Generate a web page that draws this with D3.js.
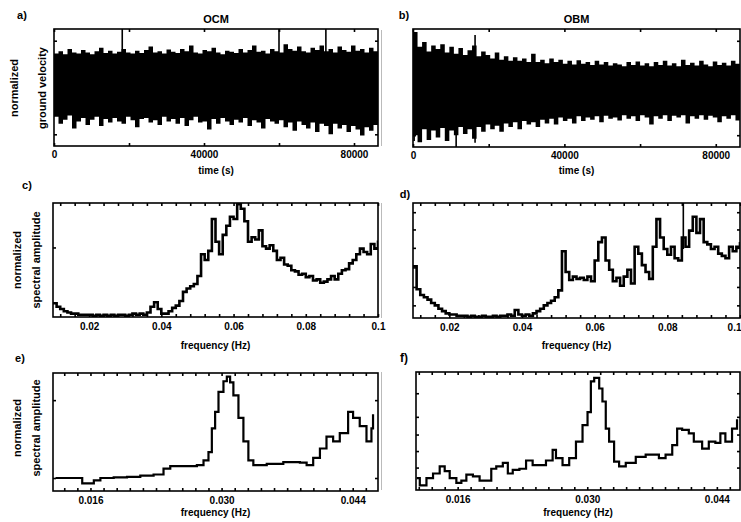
<!DOCTYPE html>
<html><head><meta charset="utf-8">
<script src="https://cdn.jsdelivr.net/npm/d3@7"></script>
<style>
html,body{margin:0;padding:0;background:#fff;}
svg text{font-family:"Liberation Sans",Arial,sans-serif;font-weight:bold;fill:#000;}
</style></head>
<body>
<svg id="chart" width="741" height="522"></svg>
<script>
// ---------------- DATA ----------------
const timeStep = 1200; // seconds between envelope samples
const timeTicks = [0, 20000, 40000, 60000, 80000];
const timeTickLabels = ["0", "", "40000", "", "80000"];

// Panel a (OCM) ground velocity envelope
const ocmUpper = [0.58,0.62,0.57,0.66,0.60,0.58,0.64,0.60,0.57,0.62,0.68,0.59,0.63,0.58,0.61,0.66,0.60,0.58,0.63,0.59,
0.64,0.70,0.60,0.62,0.58,0.65,0.61,0.59,0.66,0.62,0.72,0.60,0.58,0.64,0.62,0.68,0.60,0.57,0.63,0.61,
0.59,0.66,0.60,0.64,0.72,0.61,0.63,0.58,0.66,0.62,0.60,0.74,0.66,0.63,0.70,0.62,0.60,0.68,0.64,0.72,
0.62,0.66,0.60,0.70,0.64,0.61,0.72,0.63,0.66,0.60,0.68,0.62];
const ocmLower = [-0.50,-0.62,-0.55,-0.48,-0.70,-0.58,-0.52,-0.64,-0.55,-0.50,-0.66,-0.54,-0.60,-0.52,-0.58,-0.62,-0.50,-0.56,-0.68,-0.54,
-0.52,-0.60,-0.56,-0.64,-0.50,-0.58,-0.54,-0.62,-0.52,-0.66,-0.56,-0.50,-0.60,-0.58,-0.72,-0.54,-0.62,-0.52,-0.58,-0.64,
-0.55,-0.60,-0.52,-0.66,-0.56,-0.60,-0.70,-0.54,-0.58,-0.62,-0.56,-0.68,-0.60,-0.74,-0.58,-0.64,-0.70,-0.60,-0.76,-0.62,
-0.66,-0.80,-0.62,-0.70,-0.64,-0.76,-0.66,-0.72,-0.82,-0.68,-0.74,-0.64];
const ocmSpikeTime = [18200, 60000, 72500];
const ocmSpikeHigh = [1.0, 1.0, 1.0];
const ocmSpikeLow = [0.4, 0.4, 0.4];

// Panel b (OBM) ground velocity envelope
const obmUpper = [0.95,0.70,0.78,0.62,0.72,0.66,0.74,0.60,0.70,0.58,0.68,0.56,0.64,0.72,0.54,0.62,0.56,0.50,0.60,0.48,
0.54,0.46,0.52,0.46,0.50,0.44,0.58,0.44,0.48,0.42,0.50,0.44,0.48,0.41,0.46,0.40,0.47,0.41,0.44,0.39,
0.46,0.40,0.44,0.38,0.42,0.40,0.37,0.44,0.39,0.45,0.38,0.42,0.37,0.44,0.39,0.46,0.38,0.42,0.37,0.48,
0.39,0.43,0.38,0.46,0.40,0.37,0.45,0.39,0.43,0.38,0.46,0.41];
const obmLower = [-0.80,-0.92,-0.70,-0.88,-0.72,-0.84,-0.68,-0.90,-0.72,-0.80,-0.66,-0.78,-0.70,-0.86,-0.66,-0.74,-0.62,-0.70,-0.64,-0.74,
-0.60,-0.66,-0.58,-0.70,-0.56,-0.62,-0.58,-0.66,-0.54,-0.60,-0.52,-0.62,-0.50,-0.56,-0.52,-0.60,-0.48,-0.56,-0.50,-0.54,
-0.48,-0.58,-0.47,-0.52,-0.50,-0.55,-0.46,-0.52,-0.48,-0.56,-0.46,-0.50,-0.62,-0.48,-0.52,-0.46,-0.56,-0.47,-0.50,-0.46,
-0.60,-0.48,-0.52,-0.46,-0.54,-0.47,-0.50,-0.58,-0.48,-0.52,-0.46,-0.55];
const obmSpikeTime = [300, 11400, 16400];
const obmSpikeHigh = [0.95, 0.5, 0.90];
const obmSpikeLow = [-0.90, -1.0, -0.93];

// Panels c, d: spectra 0.010 .. 0.100 Hz, step 0.001
const freqStart = 0.010, freqStep = 0.001;
const ocmSpectrum = [0.12,0.09,0.07,0.05,0.04,0.03,0.03,0.02,0.02,0.02,
0.02,0.01,0.02,0.01,0.02,0.01,0.02,0.01,0.02,0.02,
0.01,0.02,0.03,0.02,0.03,0.02,0.04,0.09,0.13,0.07,
0.03,0.03,0.05,0.08,0.10,0.14,0.22,0.25,0.27,0.29,
0.36,0.55,0.50,0.58,0.86,0.66,0.55,0.72,0.80,0.88,
0.86,0.99,0.95,0.84,0.66,0.70,0.68,0.76,0.62,0.60,
0.63,0.58,0.50,0.52,0.46,0.45,0.41,0.40,0.37,0.38,
0.35,0.36,0.32,0.33,0.30,0.31,0.33,0.36,0.33,0.38,
0.41,0.42,0.47,0.50,0.55,0.60,0.57,0.55,0.64,0.60,0.67];
const obmSpectrum = [0.45,0.25,0.20,0.18,0.16,0.13,0.11,0.08,0.06,0.04,
0.03,0.03,0.02,0.02,0.02,0.01,0.02,0.01,0.01,0.02,
0.01,0.01,0.02,0.01,0.02,0.02,0.03,0.02,0.07,0.03,
0.02,0.03,0.02,0.04,0.06,0.08,0.11,0.13,0.15,0.18,
0.24,0.58,0.40,0.33,0.36,0.34,0.35,0.33,0.36,0.32,
0.50,0.66,0.70,0.50,0.42,0.32,0.35,0.28,0.36,0.42,
0.30,0.62,0.56,0.46,0.40,0.34,0.62,0.86,0.70,0.60,
0.55,0.62,0.52,0.50,0.70,0.62,0.76,0.88,0.74,0.86,
0.66,0.64,0.60,0.62,0.56,0.54,0.52,0.62,0.58,0.62,0.66];
const obmSpectrumSpike = [0.0844];
const specTicks = [0.02, 0.04, 0.06, 0.08, 0.1];
const specTickLabels = ["0.02", "0.04", "0.06", "0.08", "0.1"];

// Panels e, f: zoomed spectra
const ocmZoomFreq = [0.01227,0.01458,0.01512,0.01582,0.01636,0.01706,0.01848,0.0199,0.02132,0.02274,0.02345,0.0238,0.02452,0.02594,0.02736,0.02807,0.0286,0.02896,0.02931,0.02967,0.0302,0.03056,0.03091,0.03126,0.0318,0.03233,0.03286,0.03339,0.03482,0.03659,0.03836,0.03908,0.03978,0.0405,0.0412,0.04191,0.04262,0.04351,0.04404,0.04475,0.04547,0.046,0.04617];
const ocmZoomAmp = [0.11,0.11,0.065,0.065,0.09,0.11,0.115,0.12,0.13,0.14,0.14,0.19,0.21,0.21,0.22,0.26,0.33,0.53,0.67,0.84,0.93,0.97,0.92,0.81,0.62,0.42,0.26,0.22,0.23,0.245,0.24,0.22,0.28,0.36,0.46,0.42,0.49,0.67,0.62,0.55,0.42,0.53,0.65];
const obmZoomFreq = [0.01156,0.01191,0.01263,0.01334,0.01406,0.0146,0.01514,0.01586,0.0164,0.01694,0.01765,0.01837,0.01909,0.01963,0.02017,0.02088,0.02142,0.02195,0.02267,0.02339,0.0241,0.02518,0.02554,0.02626,0.02662,0.02733,0.02805,0.02878,0.02949,0.03003,0.03039,0.03075,0.03129,0.03164,0.032,0.03236,0.0329,0.03344,0.03416,0.03524,0.03631,0.03774,0.03846,0.03918,0.03971,0.04025,0.04097,0.04151,0.04241,0.04313,0.04384,0.04438,0.04492,0.04564,0.04618];
const obmZoomAmp = [0.10,0.04,0.10,0.14,0.20,0.16,0.10,0.06,0.08,0.13,0.115,0.08,0.08,0.18,0.20,0.23,0.14,0.17,0.18,0.25,0.21,0.21,0.25,0.34,0.27,0.21,0.27,0.41,0.55,0.66,0.92,0.95,0.86,0.75,0.52,0.41,0.24,0.20,0.23,0.28,0.30,0.27,0.30,0.38,0.52,0.51,0.48,0.41,0.35,0.41,0.40,0.48,0.41,0.52,0.60];
const zoomTicks = [0.016, 0.030, 0.044];
const zoomTickLabels = ["0.016", "0.030", "0.044"];
const zoomMinorStep = 0.0014;

// ---------------- DRAW ----------------
const svg = d3.select("#chart");

const panels = {
  a: {x0:54, x1:378, y0:29, y1:146},
  b: {x0:413, x1:740, y0:29, y1:147},
  c: {x0:53, x1:378, y0:203, y1:317},
  d: {x0:413, x1:740, y0:203, y1:318},
  e: {x0:53, x1:378, y0:373, y1:491},
  f: {x0:416, x1:740, y0:372, y1:490}
};

function makeScales(p, xd, yd){
  return {
    x: d3.scaleLinear().domain(xd).range([p.x0, p.x1]),
    y: d3.scaleLinear().domain(yd).range([p.y1, p.y0])
  };
}

function clipFor(id, p){
  svg.append("clipPath").attr("id", id).append("rect")
    .attr("x", p.x0).attr("y", p.y0).attr("width", p.x1 - p.x0).attr("height", p.y1 - p.y0);
  return "url(#" + id + ")";
}

function frame(p){
  svg.append("rect").attr("x", p.x0).attr("y", p.y0)
    .attr("width", p.x1 - p.x0).attr("height", p.y1 - p.y0)
    .attr("fill", "none").attr("stroke", "#000").attr("stroke-width", 1.6);
}

function xAxes(p, s, major, labels, minor, labelDy){
  const fmt = d => { const i = major.indexOf(d); return i >= 0 ? labels[i] : ""; };
  const all = minor ? Array.from(new Set(minor.concat(major))).sort((a,b)=>a-b) : major;
  const gb = svg.append("g").attr("transform", `translate(0,${p.y1})`)
    .call(d3.axisBottom(s.x).tickValues(all).tickSize(-3).tickPadding(labelDy).tickFormat(fmt));
  gb.select(".domain").remove();
  gb.selectAll("line").attr("stroke-width", 1.6);
  gb.selectAll("text").style("font-size", "10px");
  // keep the labels inside the picture at the right edge
  gb.selectAll(".tick").filter(d => s.x(d) > 730).select("text").attr("text-anchor", "end").attr("dx", "1");
  const gt = svg.append("g").attr("transform", `translate(0,${p.y0})`)
    .call(d3.axisTop(s.x).tickValues(all).tickSize(-3).tickFormat(""));
  gt.select(".domain").remove();
  gt.selectAll("line").attr("stroke-width", 1.6);
}

function yTicks(p, s, vals){
  const gl = svg.append("g").attr("transform", `translate(${p.x0},0)`)
    .call(d3.axisLeft(s.y).tickValues(vals).tickSize(-3).tickFormat(""));
  gl.select(".domain").remove();
  gl.selectAll("line").attr("stroke-width", 1.6);
  const gr = svg.append("g").attr("transform", `translate(${p.x1},0)`)
    .call(d3.axisRight(s.y).tickValues(vals).tickSize(-3).tickFormat(""));
  gr.select(".domain").remove();
  gr.selectAll("line").attr("stroke-width", 1.6);
}

function text(x, y, str, opts = {}){
  const t = svg.append("text").attr("x", x).attr("y", y).text(str)
    .style("font-size", (opts.size || 11) + "px")
    .attr("text-anchor", opts.anchor || "middle");
  if (opts.rotate) t.attr("transform", `rotate(-90,${x},${y})`);
  return t;
}

function timeSeries(key, upper, lower, spT, spH, spL, title){
  const p = panels[key];
  const s = makeScales(p, [0, 86400], [-1, 1]);
  const clip = clipFor("clip" + key, p);
  const rows = upper.map((u, i) => ({t: i * timeStep, u, l: lower[i]}));
  rows.push({t: upper.length * timeStep, u: upper[upper.length-1], l: lower[lower.length-1]});
  svg.append("path").datum(rows).attr("clip-path", clip)
    .attr("d", d3.area().curve(d3.curveStepAfter).x(d => s.x(d.t)).y0(d => s.y(d.l)).y1(d => s.y(d.u)))
    .attr("fill", "#000");
  svg.append("g").attr("clip-path", clip).selectAll("line").data(spT).join("line")
    .attr("x1", d => s.x(d)).attr("x2", d => s.x(d))
    .attr("y1", (d,i) => s.y(spH[i])).attr("y2", (d,i) => s.y(spL[i]))
    .attr("stroke", "#000").attr("stroke-width", 1.6);
  frame(p);
  xAxes(p, s, timeTicks, timeTickLabels, null, 5);
  yTicks(p, s, [-0.8, 0.8]);
  text((p.x0 + p.x1) / 2, 146 + 28, "time (s)", {size: 10});
  text((p.x0 + p.x1) / 2, 23, title, {size: 11});
  return s;
}

function spectrum(key, vals, spikes){
  const p = panels[key];
  const s = makeScales(p, [0.01, 0.1], [0, 1]);
  const clip = clipFor("clip" + key, p);
  const rows = vals.map((v, i) => ({f: freqStart + i * freqStep, v}));
  svg.append("path").datum(rows).attr("clip-path", clip)
    .attr("d", d3.line().curve(d3.curveStepAfter).x(d => s.x(d.f)).y(d => s.y(d.v)))
    .attr("fill", "none").attr("stroke", "#000").attr("stroke-width", 2.6);
  if (spikes){
    svg.append("g").attr("clip-path", clip).selectAll("line").data(spikes).join("line")
      .attr("x1", d => s.x(d)).attr("x2", d => s.x(d))
      .attr("y1", s.y(1)).attr("y2", s.y(0.6))
      .attr("stroke", "#000").attr("stroke-width", 1.6);
  }
  frame(p);
  const minor = d3.range(3, 26).map(k => +(k * 0.004).toFixed(3)).filter(v => v > 0.0105 && v < 0.1);
  xAxes(p, s, specTicks, specTickLabels, minor, 6);
  return s;
}

function zoomSpectrum(key, fr, amp, xd, yt){
  const p = panels[key];
  const s = makeScales(p, xd, [0, 1]);
  const clip = clipFor("clip" + key, p);
  const rows = fr.map((f, i) => ({f, v: amp[i]}));
  svg.append("path").datum(rows).attr("clip-path", clip)
    .attr("d", d3.line().curve(d3.curveStepAfter).x(d => s.x(d.f)).y(d => s.y(d.v)))
    .attr("fill", "none").attr("stroke", "#000").attr("stroke-width", 2.2);
  frame(p);
  const minor = d3.range(-4, 26).map(k => +(0.016 + k * zoomMinorStep).toFixed(4)).filter(v => v > xd[0] && v < xd[1]);
  xAxes(p, s, zoomTicks, zoomTickLabels, minor, 6);
  yTicks(p, s, yt);
  return s;
}

// a, b
timeSeries("a", ocmUpper, ocmLower, ocmSpikeTime, ocmSpikeHigh, ocmSpikeLow, "OCM");
timeSeries("b", obmUpper, obmLower, obmSpikeTime, obmSpikeHigh, obmSpikeLow, "OBM");
// c, d
const sc = spectrum("c", ocmSpectrum, null);
yTicks(panels.c, sc, [0.61]);
const sd = spectrum("d", obmSpectrum, obmSpectrumSpike);
yTicks(panels.d, sd, [0.11, 0.27, 0.44, 0.61, 0.77, 0.92]);
text((panels.c.x0 + panels.c.x1) / 2, 349, "frequency (Hz)", {size: 10});
text((panels.d.x0 + panels.d.x1) / 2, 349, "frequency (Hz)", {size: 10});
// e, f
zoomSpectrum("e", ocmZoomFreq, ocmZoomAmp, [0.0120, 0.0467], [0.11, 0.77]);
zoomSpectrum("f", obmZoomFreq, obmZoomAmp, [0.0115, 0.0465], [0.19, 0.33, 0.47, 0.62, 0.82]);
text((panels.e.x0 + panels.e.x1) / 2, 516, "frequency (Hz)", {size: 10});
text((panels.f.x0 + panels.f.x1) / 2, 516, "frequency (Hz)", {size: 10});

// y-axis labels (left column)
text(18, 88, "normalized", {rotate: true, size: 11});
text(46, 88, "ground velocity", {rotate: true, size: 11});
text(21, 260, "normalized", {rotate: true, size: 11});
text(40, 260, "spectral amplitude", {rotate: true, size: 11});
text(21, 428, "normalized", {rotate: true, size: 11});
text(40, 428, "spectral amplitude", {rotate: true, size: 11});

// panel letters
text(22, 19, "a)", {size: 11});
text(404, 19, "b)", {size: 11});
text(27, 189, "c)", {size: 11});
text(405, 198, "d)", {size: 11});
text(20, 362, "e)", {size: 11});
text(404, 362, "f)", {size: 12});

// faint separator lines
[[30,146],[203,318],[372,490]].forEach(r => {
  svg.append("line").attr("x1", 381.5).attr("x2", 381.5).attr("y1", r[0]).attr("y2", r[1])
    .attr("stroke", "#bbb").attr("stroke-width", 1);
});
</script>
</body></html>
